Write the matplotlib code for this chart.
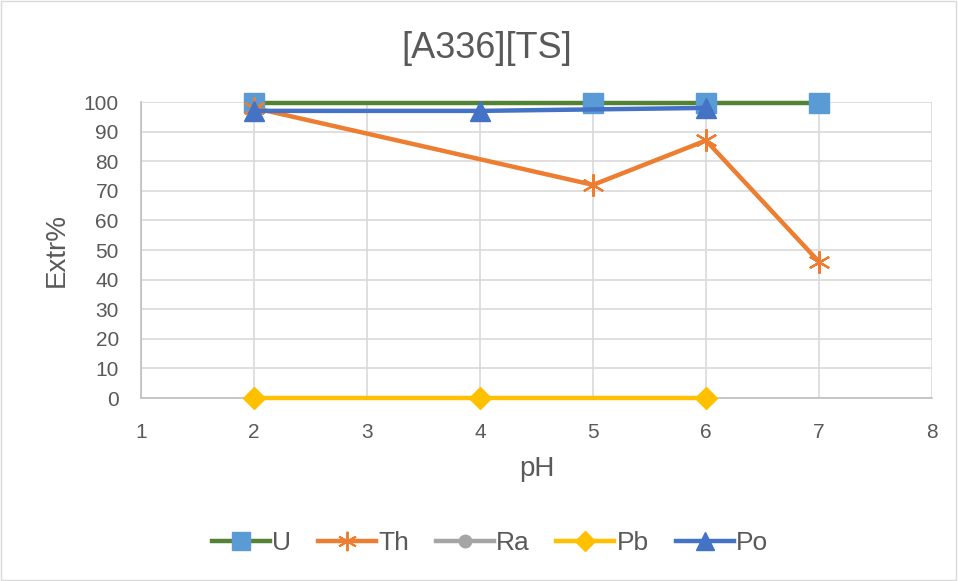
import matplotlib.pyplot as plt
from matplotlib.patches import Rectangle
from matplotlib.lines import Line2D

plt.rcParams['font.family'] = ['Liberation Sans', 'DejaVu Sans']

# extraction data vs pH
u_ph = [2, 4, 5, 6, 7]
u_ext = [99.5, 99.5, 99.5, 99.5, 99.5]
u_mark_ph = [2, 5, 6, 7]
u_mark_ext = [99.5, 99.5, 99.5, 99.5]
th_ph = [2, 5, 6, 7]
th_ext = [98, 72, 87, 46]
ra_ph = []
ra_ext = []
pb_ph = [2, 4, 6]
pb_ext = [0, 0, 0]
po_ph = [2, 4, 6]
po_ext = [97, 97, 98]

grey = '#595959'
c_u, c_um = '#548235', '#5b9bd5'
c_th, c_ra, c_pb, c_po = '#ed7d31', '#a5a5a5', '#ffc000', '#4472c4'

fig = plt.figure(figsize=(9.58, 5.81), dpi=100)
ax = fig.add_axes([141 / 958, 1 - 398 / 581, (932 - 141) / 958, (398 - 102) / 581])

lw = 3.2
th_marker = (6, 2, 0)
# U: line through every point, markers only where measured
ax.plot(u_ph, u_ext, color=c_u, lw=lw, zorder=3, clip_on=False)
ax.plot(u_mark_ph, u_mark_ext, ls='none', marker='s', ms=15, color=c_um,
        zorder=4, clip_on=False)
ax.plot(th_ph, th_ext, color=c_th, lw=lw, marker=th_marker, ms=16,
        mew=1.6, zorder=5, clip_on=False)
ax.plot(ra_ph, ra_ext, color=c_ra, lw=lw, marker='o', ms=9)
ax.plot(pb_ph, pb_ext, color=c_pb, lw=lw, marker='D', ms=11, zorder=3,
        clip_on=False)
ax.plot(po_ph, po_ext, color=c_po, lw=lw, marker='^', ms=15, zorder=6,
        clip_on=False)

ax.set_xlim(1, 8)
ax.set_ylim(0, 100)
ax.set_xticks(range(1, 9))
ax.set_yticks(range(0, 101, 10))
ax.grid(True, color='#d9d9d9', lw=1.2)
ax.set_axisbelow(True)
for s in ['top', 'right']:
    ax.spines[s].set_visible(False)
for s in ['left', 'bottom']:
    ax.spines[s].set_color('#bfbfbf')
    ax.spines[s].set_linewidth(1.2)
ax.tick_params(length=0, labelsize=15, colors=grey)
ax.tick_params(axis='y', pad=16)
ax.tick_params(axis='x', pad=18)

ax.set_xlabel('pH', fontsize=20, color=grey, labelpad=10)
ax.set_ylabel('Extr%', fontsize=20, color=grey, labelpad=10)
fig.suptitle('[A336][TS]', x=487 / 958, y=1 - 48 / 581, va='center',
             fontsize=26, color=grey)

# legend
handles = [
    Line2D([], [], color=c_u, lw=lw, marker='s', ms=13, mfc=c_um, mec=c_um),
    Line2D([], [], color=c_th, lw=lw, marker=th_marker, ms=14, mew=1.4),
    Line2D([], [], color=c_ra, lw=lw, marker='o', ms=9),
    Line2D([], [], color=c_pb, lw=lw, marker='D', ms=10),
    Line2D([], [], color=c_po, lw=lw, marker='^', ms=13),
]
leg = fig.legend(handles, ['U', 'Th', 'Ra', 'Pb', 'Po'], loc='center',
                 bbox_to_anchor=(490 / 958, 1 - 543 / 581), ncol=5, frameon=False,
                 fontsize=19, handlelength=2.2, columnspacing=1.0,
                 handletextpad=0.1)
for t in leg.get_texts():
    t.set_color(grey)

fig.patches.append(Rectangle((0.001, 0.002), 0.997, 0.996, transform=fig.transFigure,
                             fill=False, ec='#d9d9d9', lw=1))

fig.savefig('out.png', dpi=100)
